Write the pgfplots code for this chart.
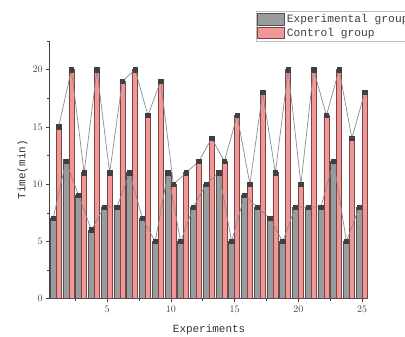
\documentclass[border=0pt]{standalone}
\usepackage{pgfplots}
\pgfplotsset{compat=1.18}
\usepackage{pgfplotstable}
\usepackage{fontspec}
\setmonofont{Liberation Mono}
\definecolor{gfill}{RGB}{155,155,155}
\definecolor{gedge}{RGB}{80,80,80}
\definecolor{pfill}{RGB}{242,150,150}
\definecolor{pedge}{RGB}{120,70,70}
\definecolor{mk}{RGB}{64,64,64}
\definecolor{ln}{RGB}{140,140,140}
\pgfplotstableread{
x g p
1 7 15
2 12 20
3 9 11
4 6 20
5 8 11
6 8 19
7 11 20
8 7 16
9 5 19
10 11 10
11 5 11
12 8 12
13 10 14
14 11 12
15 5 16
16 9 10
17 8 18
18 7 11
19 5 20
20 8 10
21 8 20
22 8 16
23 12 20
24 5 14
25 8 18
}\data
\begin{document}
\begin{tikzpicture}[x=1bp,y=1bp]
\useasboundingbox (0,0) rectangle (405,337);
\begin{axis}[
  at={(39,33.5)}, anchor=south west,
  scale only axis, width=318.75bp, height=257.6bp,
  xmin=0.5, xmax=25.5, ymin=0, ymax=22.5,
  axis x line*=bottom, axis y line*=left,
  axis line style={-, line width=0.6pt, black!75},
  xtick={5,10,15,20,25}, ytick={0,5,10,15,20},
  minor xtick={2.5,7.5,12.5,17.5,22.5},
  minor ytick={2.5,7.5,12.5,17.5,22.5},
  tick align=outside, tick pos=left,
  major tick length=3.5bp, minor tick length=2.5bp,
  tick style={black!75, line width=0.5pt},
  ticklabel style={font=\fontsize{10}{11}\selectfont, text=black!75},
  xlabel={\ttfamily Experiments},
  ylabel={\ttfamily Time(min)},
  label style={font=\fontsize{11}{12}\selectfont, text=black!80},
  xlabel style={at={(axis description cs:0.5,-0.12)}, anchor=center},
  ylabel style={at={(axis description cs:-0.085,0.5)}, anchor=center, rotate=0},
  legend cell align=left,
  legend style={at={(axis description cs:0.646,1.118)}, anchor=north west,
    font=\ttfamily\fontsize{11.3}{11.3}\selectfont, draw=black!25, line width=0.6pt,
    inner sep=1.5bp, row sep=0bp, text=black!75,
    /tikz/every even column/.append style={column sep=4bp}},
  legend image code/.code={\draw[#1] (0bp,-5.8bp) rectangle (27bp,5.8bp);},
]
\addplot[ybar, bar width=0.46, bar shift=-0.23, fill=gfill, draw=gedge, line width=0.5pt] table[x=x,y=g]{\data};
\addlegendentry{Experimental group}
\addplot[ybar, bar width=0.40, bar shift=0.20, fill=pfill, draw=pedge, line width=0.5pt] table[x=x,y=p]{\data};
\addlegendentry{Control group}
\addplot[forget plot, sharp plot, ln, line width=0.7pt, mark=square*, mark size=2.2bp, mark options={fill=mk, draw=mk}] table[x expr=\thisrow{x}-0.23, y=g]{\data};
\addplot[forget plot, sharp plot, ln, line width=0.7pt, mark=square*, mark size=2.2bp, mark options={fill=mk, draw=mk}] table[x expr=\thisrow{x}+0.20, y=p]{\data};
\end{axis}
\end{tikzpicture}
\end{document}
